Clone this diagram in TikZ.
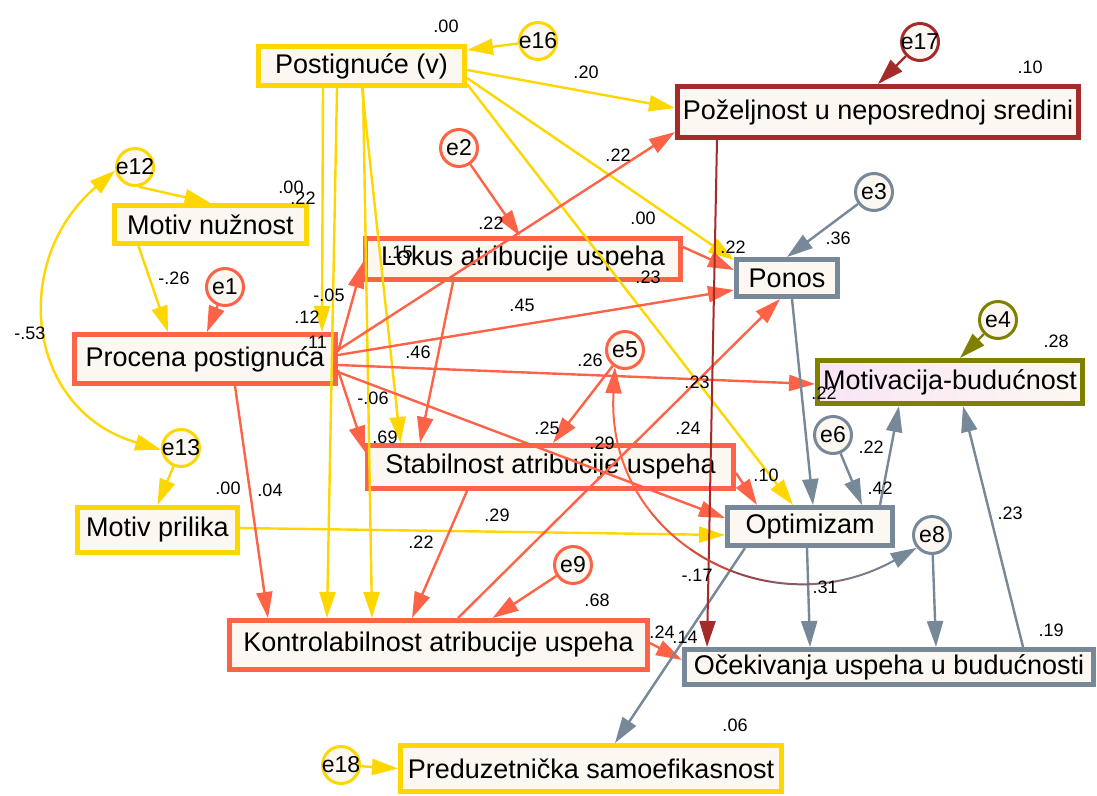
\documentclass[tikz,border=0pt]{standalone}
\usepackage{fontspec}
\setmainfont{Liberation Sans}
\usetikzlibrary{arrows.meta}
\definecolor{cgold}{HTML}{FFD700}
\definecolor{ctom}{HTML}{FF6347}
\definecolor{cbrown}{HTML}{A52A2A}
\definecolor{cslate}{HTML}{778899}
\definecolor{colive}{HTML}{808000}
\definecolor{ccream}{HTML}{FCF8F1}
\definecolor{cpink}{HTML}{F9E4F6}
\begin{document}
\begin{tikzpicture}[x=1pt,y=-1pt,
  box/.style={draw, line width=5pt, fill=ccream, inner sep=0pt, font=\fontsize{27}{32}\selectfont},
  err/.style={circle, draw, line width=3pt, fill=ccream, inner sep=0pt, minimum size=37pt, font=\fontsize{23}{27}\selectfont},
  coef/.style={inner sep=0pt, font=\fontsize{18}{21}\selectfont},
  arr/.style={line width=2.4pt, -{Triangle[length=26pt,width=16pt]}},
  darr/.style={line width=2.4pt, {Triangle[length=26pt,width=16pt]}-{Triangle[length=26pt,width=16pt]}},
]
\useasboundingbox (0,0) rectangle (1097,795);
\fill[white] (0,0) rectangle (1097,795);

% boxes
\node[box, draw=cgold, minimum width=206pt, minimum height=39pt] (post) at (361.5,66) {Postignuće (v)};
\node[box, draw=cbrown, minimum width=401pt, minimum height=51pt] (pozel) at (878,112) {Poželjnost u neposrednoj sredini};
\node[box, draw=cgold, minimum width=192pt, minimum height=38pt] (mn) at (210.5,224.5) {Motiv nužnost};
\node[box, draw=ctom, minimum width=315pt, minimum height=41pt] (lokus) at (523,259) {Lokus atribucije uspeha};
\node[box, draw=cslate, minimum width=101pt, minimum height=37pt] (ponos) at (787,278) {Ponos};
\node[box, draw=ctom, minimum width=261pt, minimum height=49pt] (proc) at (205,359) {Procena postignuća};
\node[box, draw=colive, left color=cpink, right color=ccream, minimum width=265pt, minimum height=43pt] (motiv) at (950,382) {Motivacija-budućnost};
\node[box, draw=ctom, minimum width=366pt, minimum height=43pt] (stab) at (550.5,467) {Stabilnost atribucije uspeha};
\node[box, draw=cslate, minimum width=165pt, minimum height=38pt] (optim) at (810,526.5) {Optimizam};
\node[box, draw=cgold, minimum width=160pt, minimum height=45pt] (mp) at (157.5,530) {Motiv prilika};
\node[box, draw=ctom, minimum width=418pt, minimum height=49pt] (kontrol) at (438.5,645) {Kontrolabilnost atribucije uspeha};
\node[box, draw=cslate, minimum width=409pt, minimum height=35pt] (ocek) at (889,667) {Očekivanja uspeha u budućnosti};
\node[box, draw=cgold, minimum width=381pt, minimum height=46pt] (pred) at (591,768.5) {Preduzetnička samoefikasnost};

% error circles
\node[err, draw=cgold] (e16) at (538,41) {\makebox[0pt]{e16}};
\node[err, draw=cbrown] (e17) at (920,42) {\makebox[0pt]{e17}};
\node[err, draw=cgold] (e12) at (135,167) {\makebox[0pt]{e12}};
\node[err, draw=ctom] (e2) at (459,148) {\makebox[0pt]{e2}};
\node[err, draw=cslate] (e3) at (874,192) {\makebox[0pt]{e3}};
\node[err, draw=ctom] (e1) at (225,287) {\makebox[0pt]{e1}};
\node[err, draw=colive] (e4) at (998,320) {\makebox[0pt]{e4}};
\node[err, draw=ctom] (e5) at (625,350) {\makebox[0pt]{e5}};
\node[err, draw=cslate] (e6) at (833,435) {\makebox[0pt]{e6}};
\node[err, draw=cgold] (e13) at (181,448) {\makebox[0pt]{e13}};
\node[err, draw=cslate] (e8) at (932,535) {\makebox[0pt]{e8}};
\node[err, draw=ctom] (e9) at (573,565) {\makebox[0pt]{e9}};
\node[err, draw=cgold] (e18) at (341,765) {\makebox[0pt]{e18}};

% yellow paths
\draw[arr,cgold] ([yshift=-4pt]post.east) -- ([yshift=4pt]pozel.west);
\draw[arr,cgold] ([yshift=-12pt]post.east) -- ([yshift=-3pt]ponos.north west);
\draw[arr,cgold] ([yshift=-18pt]post.east) -- ([xshift=-17pt]optim.north);
\draw[arr,cgold] ([xshift=0.5pt]post.south) -- ([xshift=-150pt]stab.north);
\draw[arr,cgold] ([xshift=-38.5pt]post.south) -- ([xshift=117pt]proc.north);
\draw[arr,cgold] ([xshift=-24.5pt]post.south) -- ([xshift=-111.5pt]kontrol.north);
\draw[arr,cgold] ([xshift=1.5pt]post.south) -- ([xshift=-66.5pt]kontrol.north);
\draw[arr,cgold] (e16) -- ([yshift=16pt]post.east);
\draw[arr,cgold] (e12.-80) -- (mn.north);
\draw[arr,cgold] ([xshift=-72pt]mn.south) -- ([xshift=-37pt]proc.north);
\draw[darr,cgold] (e12.190) .. controls (10,260) and (25,410) .. (e13.185);
\draw[arr,cgold] (e13) -- (mp.north);
\draw[arr,cgold] ([yshift=2pt]mp.east) -- ([yshift=-8.5pt]optim.west);
\draw[arr,cgold] (e18) -- (pred.west);

% tomato paths
\draw[arr,ctom] (e1) -- ([xshift=2pt]proc.north);
\draw[arr,ctom] (e2) -- ([xshift=-3pt]lokus.north);
\draw[arr,ctom] ([yshift=7pt]proc.east) -- ([yshift=-3pt]lokus.west);
\draw[arr,ctom] ([yshift=9pt]proc.east) -- ([yshift=-20pt]pozel.west);
\draw[arr,ctom] ([yshift=4pt]proc.east) -- ([yshift=-12pt]ponos.west);
\draw[arr,ctom] ([yshift=-6pt]proc.east) -- ([yshift=-2pt]motiv.west);
\draw[arr,ctom] ([yshift=-11pt]proc.east) -- ([yshift=15pt]stab.west);
\draw[arr,ctom] ([yshift=-13pt]proc.east) -- ([yshift=8.5pt]optim.west);
\draw[arr,ctom] ([xshift=30pt]proc.south) -- ([xshift=-170.5pt]kontrol.north);
\draw[arr,ctom] ([xshift=-70pt]lokus.south) -- ([xshift=-130.5pt]stab.north);
\draw[arr,ctom] ([yshift=12pt]lokus.east) -- ([yshift=8pt]ponos.west);
\draw[arr,ctom] ([xshift=-83.5pt]stab.south) -- ([xshift=-26.5pt]kontrol.north);
\draw[arr,ctom] ([yshift=-6pt]stab.east) -- ([xshift=-53pt]optim.north);
\draw[arr,ctom] (e5) -- ([xshift=2.5pt]stab.north);
\draw[arr,ctom] (e9) -- ([xshift=54pt]kontrol.north);
\draw[arr,ctom] ([xshift=19.5pt]kontrol.north) -- ([xshift=-7pt]ponos.south);
\draw[arr,ctom] ([yshift=2pt]kontrol.east) -- ([yshift=7pt]ocek.west);

% slate paths
\draw[arr,cslate] (e3) -- (ponos.north);
\draw[arr,cslate] ([xshift=5pt]ponos.south) -- ([xshift=3pt]optim.north);
\draw[arr,cslate] (e6) -- ([xshift=52pt]optim.north);
\draw[arr,cslate] ([xshift=70pt]optim.north) -- ([xshift=-51pt]motiv.south);
\draw[arr,cslate] ([xshift=134pt]ocek.north) -- ([xshift=13pt]motiv.south);
\draw[arr,cslate] ([xshift=-3pt]optim.south) -- ([xshift=-79pt]ocek.north);
\draw[arr,cslate] (e8) -- ([xshift=47pt]ocek.north);
\draw[arr,cslate] ([xshift=-65pt]optim.south) -- ([xshift=24pt]pred.north);

% brown and olive paths
\draw[arr,cbrown,line width=2pt] ([xshift=-161pt]pozel.south) -- ([xshift=-182pt]ocek.north);
\draw[arr,cbrown] (e17) -- (pozel.north);
\draw[arr,colive] (e4) -- ([xshift=10pt]motiv.north);

% covariance e5 - e8 with colour fade
\foreach \xa/\xb/\cc in {0/650/ctom, 650/690/ctom!75!cbrown, 690/730/ctom!45!cbrown, 730/770/cbrown!70!cslate, 770/810/cbrown!50!cslate, 810/850/cbrown!30!cslate, 850/890/cbrown!15!cslate, 890/1097/cslate}{
  \begin{scope}
    \clip (\xa,0) rectangle (\xb,795);
    \draw[darr,\cc,line width=2pt] (e5.240) .. controls (605,540) and (770,630) .. (e8.220);
  \end{scope}
}

% coefficients
\node[coef] (k1) at (446,26) {.00};
\node[coef] (k2) at (586,72) {.20};
\node[coef] (k3) at (1030,67) {.10};
\node[coef] (k4) at (618,155) {.22};
\node[coef] (k5) at (291,187) {.00};
\node[coef] (k6) at (303,198) {.22};
\node[coef] (k7) at (491,223) {.22};
\node[coef] (k8) at (643,218) {.00};
\node[coef] (k9) at (733,247) {.22};
\node[coef] (k10) at (838,238) {.36};
\node[coef] (k11) at (400,252) {.15};
\node[coef] (k12) at (648,277) {.23};
\node[coef] (k13) at (522,305) {.45};
\node[coef] (k14) at (174,278) {-.26};
\node[coef] (k15) at (329,295) {-.05};
\node[coef] (k16) at (307,317) {.12};
\node[coef] (k17) at (315,342) {.11};
\node[coef] (k18) at (30,333) {-.53};
\node[coef] (k19) at (418,352) {.46};
\node[coef] (k20) at (590,360) {.26};
\node[coef] (k21) at (1056,341) {.28};
\node[coef] (k22) at (697,382) {.23};
\node[coef] (k23) at (824,393) {.22};
\node[coef] (k24) at (373,398) {-.06};
\node[coef] (k25) at (385,437) {.69};
\node[coef] (k26) at (547,428) {.25};
\node[coef] (k27) at (602,443) {.29};
\node[coef] (k28) at (688,428) {.24};
\node[coef] (k29) at (871,447) {.22};
\node[coef] (k30) at (880,488) {.42};
\node[coef] (k31) at (766,475) {.10};
\node[coef] (k32) at (228,488) {.00};
\node[coef] (k33) at (270,490) {.04};
\node[coef] (k34) at (497,515) {.29};
\node[coef] (k35) at (421,542) {.22};
\node[coef] (k36) at (1010,513) {.23};
\node[coef] (k37) at (697,575) {-.17};
\node[coef] (k38) at (825,587) {.31};
\node[coef] (k39) at (597,600) {.68};
\node[coef] (k40) at (662,632) {.24};
\node[coef] (k41) at (685,637) {.14};
\node[coef] (k42) at (1051,630) {.19};
\node[coef] (k43) at (735,725) {.06};
\end{tikzpicture}
\end{document}
